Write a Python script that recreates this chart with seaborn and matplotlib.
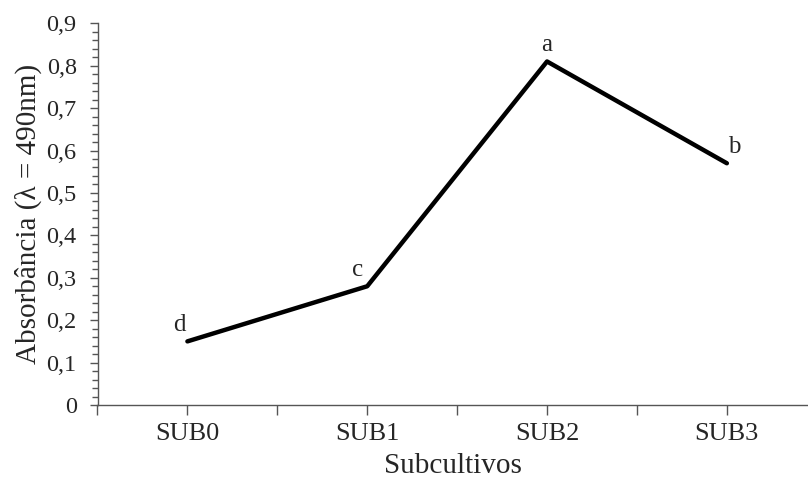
import matplotlib
matplotlib.use("Agg")
import matplotlib.pyplot as plt
import matplotlib.ticker as mticker
import seaborn as sns
import pandas as pd

# === Data ===
subcultivos = ["SUB0", "SUB1", "SUB2", "SUB3"]
absorbancia = [0.15, 0.28, 0.81, 0.57]
letras = ["d", "c", "a", "b"]
letra_offsets = [(-6, 4), (-7, 4), (0, 4), (5, 4)]  # in points

df = pd.DataFrame({"Subcultivo": subcultivos, "Absorbancia": absorbancia})

sns.set_style("ticks")
plt.rcParams["font.family"] = ["Liberation Serif", "DejaVu Serif"]

fig = plt.figure(figsize=(8.08, 4.8), dpi=100)
ax = fig.add_axes([97.5 / 808, 75 / 480, (808 - 97.5) / 808, (405 - 23.3) / 480])

sns.lineplot(data=df, x="Subcultivo", y="Absorbancia", color="black",
             linewidth=3.2, ax=ax, sort=False)

# letters above each point
for i, (val, let) in enumerate(zip(absorbancia, letras)):
    ax.annotate(let, (i, val), xytext=letra_offsets[i], textcoords="offset points",
                ha="center", va="bottom", fontsize=18)

ax.set_xlim(-0.5, 3 + (808 - 727) / 179.5)
ax.set_ylim(0, 0.9)
ax.yaxis.set_major_locator(mticker.MultipleLocator(0.1))
ax.yaxis.set_minor_locator(mticker.MultipleLocator(0.02))
ax.yaxis.set_major_formatter(mticker.FuncFormatter(
    lambda v, p: "0" if abs(v) < 1e-9 else f"{v:.1f}".replace(".", ",")))
ax.xaxis.set_minor_locator(mticker.FixedLocator([-0.5, 0.5, 1.5, 2.5]))

ax.tick_params(axis="both", which="major", color="#555555", width=1, length=6)
ax.tick_params(axis="y", which="major", labelsize=17.5, pad=9)
ax.tick_params(axis="x", which="major", labelsize=19, length=7, pad=6)
ax.tick_params(axis="y", which="minor", color="#555555", width=1, length=4)
ax.tick_params(axis="x", which="minor", color="#555555", width=1, length=7)

ax.set_xlabel("Subcultivos", fontsize=21, labelpad=6)
ax.set_ylabel("Absorbância (λ = 490nm)", fontsize=21, labelpad=3)

for side in ["top", "right"]:
    ax.spines[side].set_visible(False)
for side in ["left", "bottom"]:
    ax.spines[side].set_color("#555555")
    ax.spines[side].set_linewidth(1)

fig.savefig("out.png", dpi=100)
